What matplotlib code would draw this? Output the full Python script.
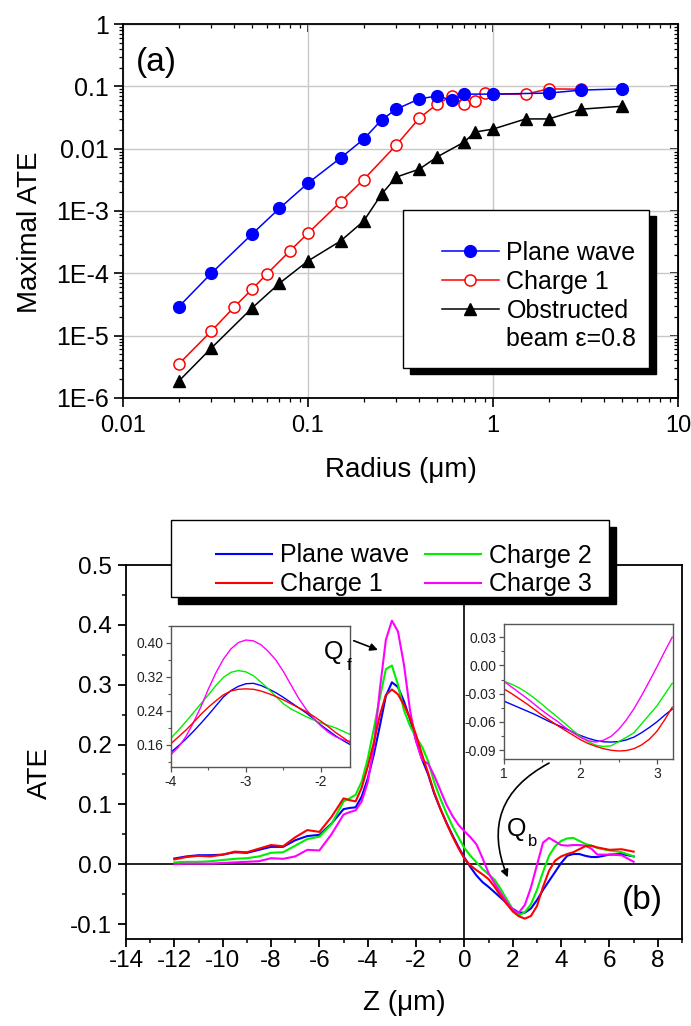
import numpy as np
import matplotlib
matplotlib.use('Agg')
import matplotlib.pyplot as plt
from matplotlib.lines import Line2D
from matplotlib.patches import Rectangle
from matplotlib.ticker import (FixedLocator, FixedFormatter, MultipleLocator,
                               LogLocator, NullFormatter, FormatStrFormatter)

plt.rcParams['font.family'] = ['Liberation Sans', 'DejaVu Sans']
plt.rcParams['axes.unicode_minus'] = False

# ---------------- panel (a) data ----------------
radius_pw = [0.02, 0.03, 0.05, 0.07, 0.1, 0.15, 0.2, 0.25, 0.3, 0.4, 0.5, 0.6, 0.7, 1, 2, 3, 5]
ate_pw = [2.9e-5, 1.0e-4, 4.3e-4, 1.1e-3, 2.8e-3, 7.1e-3, 0.0142, 0.029, 0.043, 0.063,
          0.070, 0.060, 0.075, 0.075, 0.078, 0.087, 0.091]

radius_c1 = [0.02, 0.03, 0.04, 0.05, 0.06, 0.08, 0.1, 0.15, 0.2, 0.3, 0.4, 0.5, 0.6, 0.7,
             0.8, 0.9, 1, 1.5, 2, 3]
ate_c1 = [3.5e-6, 1.18e-5, 2.9e-5, 5.6e-5, 9.8e-5, 2.3e-4, 4.4e-4, 1.4e-3, 3.2e-3, 0.0114,
          0.031, 0.052, 0.070, 0.052, 0.058, 0.078, 0.075, 0.075, 0.091, 0.090]

radius_ob = [0.02, 0.03, 0.05, 0.07, 0.1, 0.15, 0.2, 0.25, 0.3, 0.4, 0.5, 0.7, 0.8, 1, 1.5, 2, 3, 5]
ate_ob = [1.86e-6, 6.3e-6, 2.8e-5, 6.9e-5, 1.58e-4, 3.3e-4, 6.9e-4, 1.87e-3, 3.5e-3, 4.7e-3,
          7.4e-3, 0.0128, 0.0185, 0.0206, 0.030, 0.030, 0.043, 0.048]

ytick_vals_a = [1e-6, 1e-5, 1e-4, 1e-3, 1e-2, 1e-1, 1]
ytick_labels_a = ['1E-6', '1E-5', '1E-4', '1E-3', '0.01', '0.1', '1']
xtick_vals_a = [0.01, 0.1, 1, 10]
xtick_labels_a = ['0.01', '0.1', '1', '10']

# ---------------- panel (b) data ----------------
z_main = [-12, -11.5, -11, -10.5, -10, -9.5, -9, -8.5, -8, -7.5,
          -7, -6.5, -6, -5.5, -5, -4.75, -4.5, -4.25, -4, -3.75,
          -3.5, -3.25, -3, -2.75, -2.5, -2.25, -2, -1.75, -1.5, -1.25,
          -1, -0.75, -0.5, -0.25, 0, 0.25, 0.5, 0.75, 1, 1.25,
          1.5, 1.75, 2, 2.25, 2.5, 2.75, 3, 3.25, 3.5, 3.75,
          4, 4.25, 4.5, 4.75, 5, 5.25, 5.5, 6, 6.5, 7]
ate_plane = [0.0095, 0.013, 0.015, 0.015, 0.016, 0.020, 0.019, 0.024, 0.029, 0.029,
             0.040, 0.047, 0.049, 0.068, 0.092, 0.094, 0.095, 0.113, 0.143, 0.183,
             0.231, 0.281, 0.304, 0.296, 0.272, 0.242, 0.207, 0.175, 0.150, 0.118,
             0.093, 0.070, 0.049, 0.029, 0.011, -0.005, -0.019, -0.030, -0.038, -0.047,
             -0.056, -0.065, -0.0745, -0.081, -0.081, -0.074, -0.060, -0.043, -0.028, -0.013,
             0.002, 0.014, 0.017, 0.017, 0.014, 0.012, 0.012, 0.016, 0.017, 0.013]
ate_ch1 = [0.008, 0.012, 0.014, 0.013, 0.016, 0.021, 0.020, 0.026, 0.032, 0.030,
           0.045, 0.057, 0.054, 0.079, 0.110, 0.107, 0.105, 0.128, 0.163, 0.203,
           0.249, 0.283, 0.292, 0.284, 0.266, 0.244, 0.216, 0.183, 0.152, 0.120,
           0.093, 0.069, 0.047, 0.027, 0.009, -0.002, -0.010, -0.017, -0.025, -0.038,
           -0.053, -0.0665, -0.079, -0.087, -0.091, -0.0865, -0.070, -0.038, -0.011, 0.006,
           0.013, 0.017, 0.020, 0.025, 0.030, 0.031, 0.028, 0.024, 0.025, 0.021]
ate_ch2 = [0.003, 0.004, 0.004, 0.005, 0.007, 0.009, 0.010, 0.013, 0.019, 0.020,
           0.031, 0.042, 0.046, 0.067, 0.105, 0.110, 0.116, 0.138, 0.176, 0.226,
           0.278, 0.326, 0.332, 0.300, 0.257, 0.231, 0.212, 0.196, 0.172, 0.137,
           0.110, 0.086, 0.064, 0.045, 0.027, 0.014, 0.003, -0.008, -0.017, -0.026,
           -0.0415, -0.0585, -0.0755, -0.0858, -0.080, -0.067, -0.043, -0.013, 0.014, 0.030,
           0.039, 0.043, 0.044, 0.039, 0.034, 0.031, 0.027, 0.023, 0.020, 0.013]
ate_ch3 = [0.000, 0.001, 0.001, 0.001, 0.002, 0.003, 0.004, 0.005, 0.010, 0.009,
           0.013, 0.024, 0.023, 0.050, 0.083, 0.087, 0.090, 0.105, 0.137, 0.196,
           0.292, 0.375, 0.407, 0.389, 0.333, 0.257, 0.205, 0.174, 0.168, 0.148,
           0.124, 0.100, 0.081, 0.066, 0.055, 0.045, 0.033, 0.010, -0.015, -0.032,
           -0.048, -0.063, -0.0765, -0.081, -0.068, -0.039, -0.0015, 0.036, 0.044, 0.038,
           0.032, 0.031, 0.032, 0.032, 0.031, 0.026, 0.016, 0.016, 0.015, 0.004]

# inset around the forward peak
z_in1 = [-4.0, -3.9, -3.8, -3.7, -3.6, -3.5, -3.4, -3.3, -3.2, -3.1, -3.0, -2.9, -2.8,
         -2.7, -2.6, -2.5, -2.4, -2.3, -2.2, -2.1, -2.0, -1.9, -1.8, -1.7, -1.6]
in1_plane = [0.143, 0.158, 0.174, 0.192, 0.211, 0.231, 0.252, 0.273, 0.288, 0.298, 0.304, 0.305, 0.300,
             0.292, 0.283, 0.272, 0.260, 0.248, 0.236, 0.222, 0.207, 0.194, 0.181, 0.170, 0.160]
in1_ch1 = [0.163, 0.179, 0.195, 0.213, 0.232, 0.249, 0.264, 0.278, 0.287, 0.291, 0.292, 0.291, 0.287,
           0.281, 0.274, 0.266, 0.257, 0.248, 0.239, 0.228, 0.216, 0.203, 0.189, 0.177, 0.164]
in1_ch2 = [0.176, 0.195, 0.215, 0.236, 0.257, 0.278, 0.300, 0.319, 0.331, 0.335, 0.332, 0.323, 0.308,
           0.292, 0.274, 0.257, 0.245, 0.236, 0.227, 0.219, 0.212, 0.206, 0.200, 0.192, 0.184]
in1_ch3 = [0.137, 0.155, 0.180, 0.213, 0.250, 0.292, 0.330, 0.362, 0.386, 0.401, 0.407, 0.405, 0.396,
           0.380, 0.360, 0.333, 0.302, 0.271, 0.245, 0.223, 0.205, 0.190, 0.179, 0.172, 0.168]

# inset around the backward dip
z_in2 = [1.0, 1.1, 1.2, 1.3, 1.4, 1.5, 1.6, 1.7, 1.8, 1.9, 2.0, 2.1, 2.2, 2.3, 2.4, 2.5,
         2.6, 2.7, 2.8, 2.9, 3.0, 3.1, 3.2]
in2_plane = [-0.038, -0.0415, -0.045, -0.0485, -0.052, -0.056, -0.060, -0.0635, -0.067, -0.071,
             -0.0745, -0.0775, -0.0798, -0.0812, -0.0815, -0.081, -0.0792, -0.0762, -0.0715,
             -0.066, -0.060, -0.053, -0.0465]
in2_ch1 = [-0.025, -0.030, -0.0355, -0.041, -0.047, -0.053, -0.0585, -0.064, -0.069, -0.074,
           -0.079, -0.083, -0.086, -0.0885, -0.0902, -0.091, -0.0905, -0.0885, -0.0845,
           -0.0785, -0.070, -0.058, -0.0445]
in2_ch2 = [-0.017, -0.020, -0.024, -0.029, -0.035, -0.0415, -0.0485, -0.055, -0.062, -0.069,
           -0.0755, -0.081, -0.0848, -0.0862, -0.0855, -0.081, -0.0765, -0.0715, -0.062,
           -0.0525, -0.043, -0.031, -0.019]
in2_ch3 = [-0.017, -0.023, -0.029, -0.035, -0.0415, -0.048, -0.054, -0.0595, -0.066, -0.0715,
           -0.0765, -0.080, -0.0815, -0.0795, -0.0755, -0.068, -0.058, -0.046, -0.032,
           -0.017, -0.0015, 0.0145, 0.030]

W, H = 691.0, 1026.0


def box(l, t, r, b):
    # pixel box of the reference -> figure fraction
    return [l / W, 1 - b / H, (r - l) / W, (b - t) / H]


fig = plt.figure(figsize=(6.91, 10.26), dpi=100)

# ======================= panel (a) =======================
ax1 = fig.add_axes(box(123, 24, 678, 398))
ax1.set_xscale('log')
ax1.set_yscale('log')
ax1.set_xlim(0.01, 10)
ax1.set_ylim(1e-6, 1)
ax1.grid(True, which='major', color='#c8c8c8', lw=1)
ax1.set_axisbelow(True)

ax1.plot(radius_c1, ate_c1, '-o', color='r', mfc='white', mec='r', ms=8, mew=1.1, lw=1.1, zorder=3)
ax1.plot(radius_ob, ate_ob, '-^', color='k', ms=9, lw=1.1, zorder=3)
ax1.plot(radius_pw, ate_pw, '-o', color='b', ms=8.5, lw=1.1, zorder=4)

ax1.yaxis.set_major_locator(FixedLocator(ytick_vals_a))
ax1.yaxis.set_major_formatter(FixedFormatter(ytick_labels_a))
ax1.xaxis.set_major_locator(FixedLocator(xtick_vals_a))
ax1.xaxis.set_major_formatter(FixedFormatter(xtick_labels_a))
ax1.yaxis.set_minor_locator(LogLocator(base=10, subs=np.arange(2, 10)))
ax1.xaxis.set_minor_locator(LogLocator(base=10, subs=np.arange(2, 10)))
ax1.xaxis.set_minor_formatter(NullFormatter())
ax1.yaxis.set_minor_formatter(NullFormatter())
ax1.tick_params(which='both', direction='out', top=False, right=False, labelsize=17)
ax1.tick_params(axis='y', labelsize=18)
ax1.tick_params(which='major', length=6.5, width=1.2)
ax1.tick_params(which='minor', length=3, width=0.9)
ax1.tick_params(axis='x', pad=6)
for s in ax1.spines.values():
    s.set_linewidth(1.3)

secx = ax1.secondary_xaxis('top')
secx.tick_params(which='both', direction='in', labeltop=False)
secx.tick_params(which='major', length=6, width=1.2)
secx.tick_params(which='minor', length=3, width=0.9)
secy = ax1.secondary_yaxis('right')
secy.tick_params(which='both', direction='in', labelright=False)
secy.tick_params(which='major', length=6, width=1.2)
secy.tick_params(which='minor', length=3, width=0.9)

ax1.set_ylabel('Maximal ATE', fontsize=20)
ax1.yaxis.set_label_coords(-0.168, 0.444)
ax1.yaxis.label.set_va('center')
ax1.set_xlabel('Radius (μm)', fontsize=20)
ax1.xaxis.set_label_coords(0.5, -0.193)
ax1.xaxis.label.set_va('center')
ax1.text(0.0595, 0.898, '(a)', transform=ax1.transAxes, fontsize=24, ha='center', va='center')

# legend (a): frame with solid shadow, drawn at figure level
fig.add_artist(Rectangle((410 / W, 1 - 374 / H), 246 / W, 158 / H, transform=fig.transFigure,
                         facecolor='black', edgecolor='black', zorder=3))
fig.add_artist(Rectangle((403 / W, 1 - 368 / H), 246 / W, 158 / H, transform=fig.transFigure,
                         facecolor='white', edgecolor='black', lw=1, zorder=3.1))
h_a = [Line2D([], [], color='b', marker='o', ms=8.5, lw=1.1),
       Line2D([], [], color='r', marker='o', mfc='white', mec='r', ms=8, mew=1.1, lw=1.1),
       Line2D([], [], color='k', marker='^', ms=9, lw=1.1),
       Line2D([], [], linestyle='none', marker='none')]
l_a = ['Plane wave', 'Charge 1', 'Obstructed', 'beam ε=0.8']
fig.legend(h_a, l_a, loc='upper left', bbox_to_anchor=(429 / W, 1 - 228 / H),
           bbox_transform=fig.transFigure, frameon=False, borderpad=0, fontsize=18,
           handlelength=2.28, handletextpad=0.32, labelspacing=0.2)

# ======================= panel (b) =======================
ax2 = fig.add_axes(box(126, 565, 682, 939))
ax2.set_xlim(-14, 9)
ax2.set_ylim(-0.125, 0.5)
ax2.axhline(0, color='k', lw=1.2, zorder=1)
ax2.axvline(0, color='k', lw=1.2, zorder=1)
ax2.plot(z_main, ate_plane, color='#0000ff', lw=1.5)
ax2.plot(z_main, ate_ch2, color='#00ee00', lw=1.5)
ax2.plot(z_main, ate_ch3, color='#ff00ff', lw=1.5)
ax2.plot(z_main, ate_ch1, color='#ff0000', lw=1.5)

ax2.xaxis.set_major_locator(MultipleLocator(2))
ax2.xaxis.set_minor_locator(MultipleLocator(1))
ax2.yaxis.set_major_locator(MultipleLocator(0.1))
ax2.yaxis.set_minor_locator(MultipleLocator(0.05))
ax2.xaxis.set_major_formatter(FormatStrFormatter('%d'))
ax2.yaxis.set_major_formatter(FormatStrFormatter('%.1f'))
ax2.tick_params(which='both', direction='out', top=False, right=False, labelsize=17.5)
ax2.tick_params(which='major', length=6, width=1.3)
ax2.tick_params(which='minor', length=3, width=1.1)
ax2.tick_params(axis='y', pad=4)
ax2.tick_params(axis='x', pad=2)
for s in ax2.spines.values():
    s.set_linewidth(1.3)

ax2.set_ylabel('ATE', fontsize=20)
ax2.yaxis.set_label_coords(-0.155, 0.444)
ax2.yaxis.label.set_va('center')
ax2.set_xlabel('Z (μm)', fontsize=20)
ax2.xaxis.set_label_coords(0.5, -0.171)
ax2.xaxis.label.set_va('center')
ax2.text(0.928, 0.104, '(b)', transform=ax2.transAxes, fontsize=24, ha='center', va='center')

# arrows to Qf and Qb
ax2.annotate('', xy=(-3.58, 0.358), xytext=(-4.58, 0.3735),
             arrowprops=dict(arrowstyle='-|>', color='k', lw=1.2, mutation_scale=11,
                             shrinkA=0, shrinkB=0))
ax2.annotate('', xy=(1.79, -0.022), xytext=(3.5, 0.169),
             arrowprops=dict(arrowstyle='-|>', color='k', lw=1.2, mutation_scale=11,
                             shrinkA=0, shrinkB=0, connectionstyle='arc3,rad=0.45'))

fig.text(334 / W, 1 - 652 / H, 'Q', fontsize=18, ha='center', va='center', zorder=6)
fig.text(349 / W, 1 - 665 / H, 'f', fontsize=12, ha='center', va='center', zorder=6)
fig.text(517 / W, 1 - 829 / H, 'Q', fontsize=18, ha='center', va='center', zorder=6)
fig.text(533 / W, 1 - 842 / H, 'b', fontsize=12, ha='center', va='center', zorder=6)

# legend (b)
fig.add_artist(Rectangle((178 / W, 1 - 604 / H), 438 / W, 77 / H, transform=fig.transFigure,
                         facecolor='black', edgecolor='black', zorder=3))
fig.add_artist(Rectangle((171 / W, 1 - 597 / H), 438 / W, 77 / H, transform=fig.transFigure,
                         facecolor='white', edgecolor='black', lw=1, zorder=3.1))
h_b = [Line2D([], [], color='#0000ff', lw=1.5),
       Line2D([], [], color='#ff0000', lw=1.5),
       Line2D([], [], color='#00ee00', lw=1.5),
       Line2D([], [], color='#ff00ff', lw=1.5)]
l_b = ['Plane wave', 'Charge 1', 'Charge 2', 'Charge 3']
fig.legend(h_b, l_b, loc='upper left', ncol=2, bbox_to_anchor=(203 / W, 1 - 531 / H),
           bbox_transform=fig.transFigure, frameon=False, borderpad=0, fontsize=18,
           handlelength=2.24, handletextpad=0.32, labelspacing=0.2, columnspacing=0.64)


def style_inset(ax):
    for s in ax.spines.values():
        s.set_color('#555555')
        s.set_linewidth(1.0)
    ax.tick_params(which='both', direction='out', colors='#555555', labelcolor='#222222',
                   labelsize=10, top=False, right=False)
    ax.tick_params(which='major', length=3.5, width=0.9, pad=2)
    ax.tick_params(which='minor', length=2, width=0.8)


# inset 1
ax3 = fig.add_axes(box(171, 626, 350, 767))
ax3.plot(z_in1, in1_plane, color='#0000ff', lw=1.0)
ax3.plot(z_in1, in1_ch2, color='#00ee00', lw=1.0)
ax3.plot(z_in1, in1_ch3, color='#ff00ff', lw=1.0)
ax3.plot(z_in1, in1_ch1, color='#ff0000', lw=1.0)
ax3.set_xlim(-4, -1.61)
ax3.set_ylim(0.108, 0.44)
ax3.xaxis.set_major_locator(MultipleLocator(1))
ax3.xaxis.set_minor_locator(MultipleLocator(0.5))
ax3.yaxis.set_major_locator(FixedLocator([0.16, 0.24, 0.32, 0.40]))
ax3.yaxis.set_minor_locator(MultipleLocator(0.04))
ax3.xaxis.set_major_formatter(FormatStrFormatter('%d'))
ax3.yaxis.set_major_formatter(FormatStrFormatter('%.2f'))
style_inset(ax3)

# inset 2
ax4 = fig.add_axes(box(504, 624, 673, 759))
ax4.plot(z_in2, in2_plane, color='#0000ff', lw=1.0)
ax4.plot(z_in2, in2_ch2, color='#00ee00', lw=1.0)
ax4.plot(z_in2, in2_ch3, color='#ff00ff', lw=1.0)
ax4.plot(z_in2, in2_ch1, color='#ff0000', lw=1.0)
ax4.set_xlim(1, 3.21)
ax4.set_ylim(-0.0995, 0.044)
ax4.xaxis.set_major_locator(MultipleLocator(1))
ax4.xaxis.set_minor_locator(MultipleLocator(0.5))
ax4.yaxis.set_major_locator(FixedLocator([-0.09, -0.06, -0.03, 0.0, 0.03]))
ax4.yaxis.set_minor_locator(MultipleLocator(0.015))
ax4.xaxis.set_major_formatter(FormatStrFormatter('%d'))
ax4.yaxis.set_major_formatter(FormatStrFormatter('%.2f'))
style_inset(ax4)

fig.savefig('out.png', dpi=100)
